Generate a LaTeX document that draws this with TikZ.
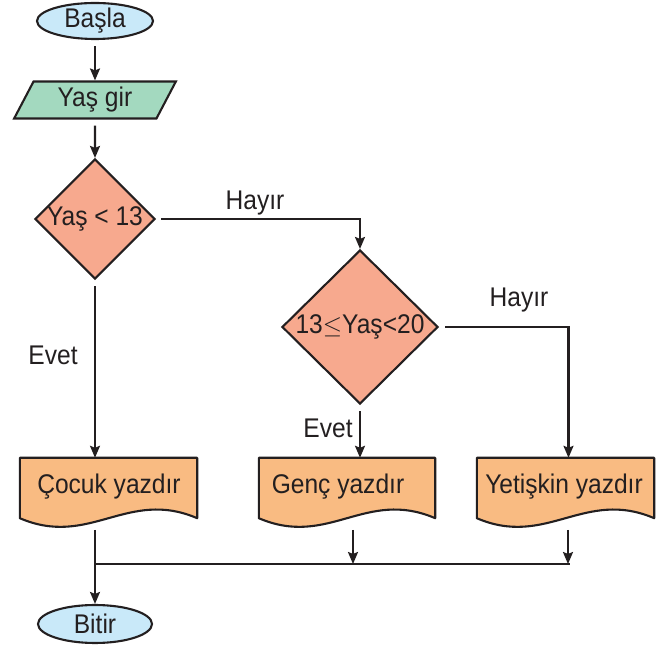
\documentclass[tikz,border=0pt]{standalone}
\usepackage{fontspec}
\setmainfont{Liberation Sans}[FakeStretch=0.91]
\usetikzlibrary{shapes.geometric,arrows.meta}
\definecolor{ink}{HTML}{231F20}
\definecolor{termfill}{HTML}{C9E9F9}
\definecolor{iofill}{HTML}{A3D9BF}
\definecolor{decfill}{HTML}{F7A98E}
\definecolor{docfill}{HTML}{F9BB82}
\tikzset{
  line/.style={draw=ink, line width=2.1pt},
  flow/.style={line, -{Stealth[length=12pt,width=10pt,inset=2pt]}},
  term/.style={ellipse, draw=ink, line width=2.1pt, fill=termfill, inner sep=0pt},
  iobox/.style={trapezium, trapezium left angle=65, trapezium right angle=115,
    trapezium stretches=true, draw=ink, line width=2.1pt, fill=iofill,
    minimum width=163pt, minimum height=37pt, inner sep=0pt},
  decision/.style={diamond, draw=ink, line width=2.1pt, fill=decfill, inner sep=0pt},
  docarea/.style={rectangle, minimum width=177pt, minimum height=60pt, inner sep=0pt},
  docline/.style={draw=ink, line width=2.1pt, fill=docfill, line join=round},
  lbl/.style={text=ink, inner sep=0pt}
}
% document symbol: flat top, straight sides, wavy bottom
\newcommand\docoutline[1]{%
  \path[docline] (#1.south west) -- (#1.north west) -- (#1.north east) -- (#1.south east)
    .. controls +(-70,30) and +(70,-30) .. (#1.south west) -- cycle;}
\begin{document}
\begin{tikzpicture}[x=1pt,y=1pt,font=\fontsize{27}{31}\selectfont,text=ink]
\useasboundingbox (0,0) rectangle (659,645);

% start and input
\node[term, minimum width=116pt, minimum height=36pt] (start) at (95,624) {Başla};
\node[iobox] (input) at (95,545) {Yaş gir};

% decisions
\node[decision, minimum width=120pt, minimum height=120pt] (d1) at (95,426) {};
\node[lbl] at (d1) {Yaş < 13};
\node[decision, minimum width=156pt, minimum height=154pt] (d2) at (360,318) {};
\node[lbl] at (d2) {13$\leq$Yaş<20};

% outputs
\node[docarea] (cocuk) at (108.5,157) {};
\node[docarea, minimum width=176pt] (genc) at (347,157) {};
\node[docarea] (yet) at (565.5,157) {};
\docoutline{cocuk}
\docoutline{genc}
\docoutline{yet}
\node[lbl] at (109,158) {Çocuk yazdır};
\node[lbl] at (338,158) {Genç yazdır};
\node[lbl] at (564,158) {Yetişkin yazdır};

% end
\node[term, minimum width=114pt, minimum height=38pt] (stop) at (95,21) {Bitir};

% merge line
\coordinate (mL) at (95,81);
\coordinate (mR) at (570,81);
\coordinate (gOut) at (353,115);
\coordinate (yOut) at (568,115);
\coordinate (cOut) at (95,115);

% connectors
\draw[flow, shorten <=6pt] (start) -- (input);
\draw[flow, shorten <=6pt] (input) -- (d1);
\draw[flow, shorten <=5pt] (d1.east) -| (d2.north);
\draw[flow, shorten <=6pt] (d1.south) -- (d1.south |- cocuk.north);
\draw[flow, shorten <=6pt] (d2.east) -| ([xshift=3pt]yet.north);
\draw[flow, shorten <=6pt] (d2.south) -- (d2.south |- genc.north);
\draw[flow] (gOut) -- (gOut |- mL);
\draw[flow] (yOut) -- (yOut |- mL);
\draw[line] (mL) -- (mR);
\draw[flow] (cOut) -- (stop.north);

% branch labels
\node[lbl] at (255,442) {Hayır};
\node[lbl] at (519,345) {Hayır};
\node[lbl] at (53,290) {Evet};
\node[lbl] at (328,217) {Evet};
\end{tikzpicture}
\end{document}
